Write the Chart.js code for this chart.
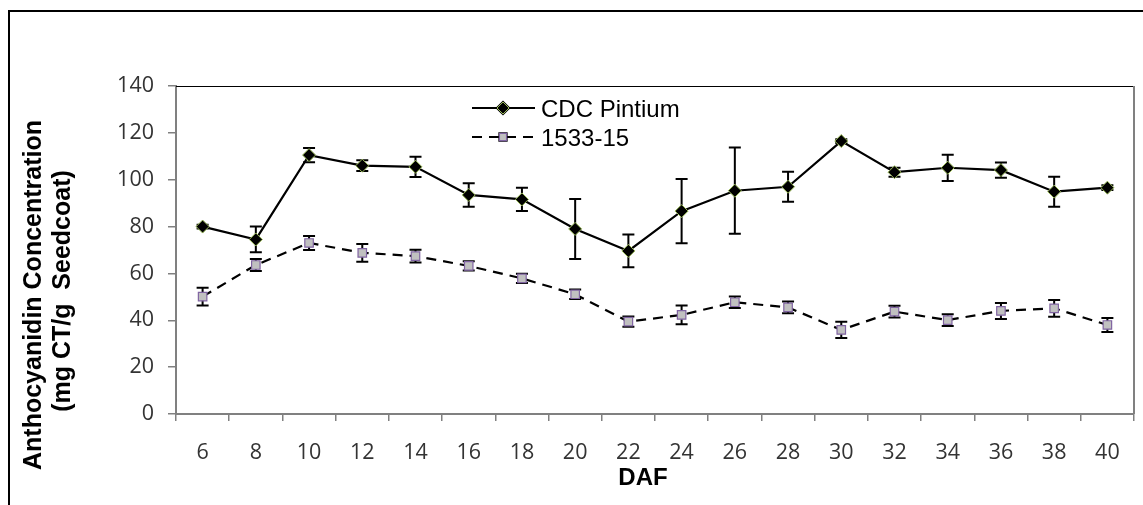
<!DOCTYPE html>
<html>
<head>
<meta charset="utf-8">
<script src="https://cdn.jsdelivr.net/npm/chart.js@4/dist/chart.umd.min.js"></script>
<style>
  html, body { margin: 0; padding: 0; background: #fff; }
  #wrap { position: relative; width: 1143px; height: 505px; overflow: hidden; }
  #c { position: absolute; left: 0; top: 0; }
  #frame { position: absolute; left: 8px; top: 10px; width: 1200px; height: 600px;
           border-top: 2px solid #000; border-left: 2px solid #000; pointer-events: none; }
</style>
</head>
<body>
<div id="wrap">
  <canvas id="c" width="1143" height="505"></canvas>
  <div id="frame"></div>
</div>
<script>
// ---- data ----
const days = ['6','8','10','12','14','16','18','20','22','24','26','28','30','32','34','36','38','40'];
const pintium    = [80, 74.5, 110.5, 106, 105.5, 93.5, 91.6, 79, 69.6, 86.6, 95.3, 97, 116.5, 103.2, 105.1, 104.1, 94.9, 96.6];
const pintiumErr = [0.8, 5.5, 3, 2.3, 4.3, 5, 5, 12.8, 7, 13.7, 18.4, 6.4, 0.8, 1.9, 5.6, 3.3, 6.4, 1];
const line1533    = [50.1, 63.6, 73, 68.8, 67.4, 63.2, 57.9, 51.1, 39.4, 42.3, 47.7, 45.5, 35.9, 43.7, 40.1, 44, 45.1, 38];
const line1533Err = [3.8, 2.6, 3, 3.8, 2.7, 2, 2, 2, 2.2, 4, 2.5, 2.5, 3.5, 2.5, 2.5, 3.4, 3.6, 3];
const seriesNames = ['CDC Pintium', '1533-15'];
const yTicks = [0, 20, 40, 60, 80, 100, 120, 140];
const yTitleLines = ['Anthocyanidin Concentration', '(mg CT/g  Seedcoat)'];
const xTitle = 'DAF';

// ---- plugins ----
const errorBars = {
  id: 'errorBars',
  beforeDatasetsDraw(chart) {
    const ctx = chart.ctx;
    const yScale = chart.scales.y;
    ctx.save();
    ctx.strokeStyle = '#000';
    ctx.lineWidth = 2;
    chart.data.datasets.forEach((ds, i) => {
      const meta = chart.getDatasetMeta(i);
      meta.data.forEach((pt, j) => {
        const e = ds.errors[j];
        const v = ds.data[j];
        const yTop = yScale.getPixelForValue(v + e);
        const yBot = yScale.getPixelForValue(v - e);
        const x = pt.x;
        ctx.beginPath();
        ctx.moveTo(x, yTop); ctx.lineTo(x, yBot);
        ctx.moveTo(x - 6, yTop); ctx.lineTo(x + 6, yTop);
        ctx.moveTo(x - 6, yBot); ctx.lineTo(x + 6, yBot);
        ctx.stroke();
      });
    });
    ctx.restore();
  }
};

const frameAndText = {
  id: 'frameAndText',
  beforeDatasetsDraw(chart) {
    const {ctx, chartArea: a} = chart;
    ctx.save();
    ctx.strokeStyle = '#000';
    ctx.lineWidth = 1;
    ctx.beginPath();
    ctx.moveTo(a.left, a.top + 0.5); ctx.lineTo(a.right, a.top + 0.5);
    ctx.stroke();
    ctx.strokeStyle = '#808080';
    ctx.lineWidth = 2;
    ctx.beginPath();
    ctx.moveTo(a.right, a.top); ctx.lineTo(a.right, a.bottom);
    ctx.stroke();
    ctx.restore();
  },
  afterDraw(chart) {
    const ctx = chart.ctx;
    ctx.save();
    // y title
    ctx.fillStyle = '#000';
    ctx.font = 'bold 25px "Liberation Sans", Arial, sans-serif';
    ctx.textAlign = 'center';
    ctx.textBaseline = 'middle';
    const pos = [[34, 295], [63, 291]];
    yTitleLines.forEach((t, i) => {
      ctx.save();
      ctx.translate(pos[i][0], pos[i][1]);
      ctx.rotate(-Math.PI / 2);
      ctx.fillText(t, 0, 0);
      ctx.restore();
    });
    // x title
    ctx.font = 'bold 24px "Liberation Sans", Arial, sans-serif';
    ctx.fillText(xTitle, 643, 478);

    // legend
    const lx0 = 472, lx1 = 535, mx = 503;
    const rows = [108, 137];
    chart.data.datasets.forEach((ds, i) => {
      const y = rows[i];
      ctx.strokeStyle = ds.borderColor;
      ctx.lineWidth = ds.borderWidth;
      ctx.setLineDash(ds.borderDash || []);
      ctx.beginPath();
      ctx.moveTo(lx0, y); ctx.lineTo(lx1, y);
      ctx.stroke();
      ctx.setLineDash([]);
      Chart.helpers.drawPoint(ctx, {
        pointStyle: ds.pointStyle,
        radius: i === 0 ? 6 : 5,
        borderWidth: ds.pointBorderWidth,
        rotation: 0
      }, mx, y);
      ctx.fillStyle = ds.pointBackgroundColor;
      ctx.strokeStyle = ds.pointBorderColor;
      ctx.lineWidth = ds.pointBorderWidth;
      ctx.fill();
      ctx.stroke();
      ctx.fillStyle = '#000';
      ctx.font = '24px "Liberation Sans", Arial, sans-serif';
      ctx.textAlign = 'left';
      ctx.textBaseline = 'alphabetic';
      ctx.fillText(ds.label, 541, y + 9);
    });
    ctx.restore();
  }
};

function render() {
  new Chart(document.getElementById('c'), {
    type: 'line',
    data: {
      labels: days,
      datasets: [
        {
          label: seriesNames[0],
          data: pintium,
          errors: pintiumErr,
          borderColor: '#000',
          borderWidth: 2.2,
          pointStyle: 'rectRot',
          pointRadius: 6.5,
          pointBackgroundColor: '#000',
          pointBorderColor: '#9bbb59',
          pointBorderWidth: 1,
          tension: 0
        },
        {
          label: seriesNames[1],
          data: line1533,
          errors: line1533Err,
          borderColor: '#000',
          borderWidth: 2.2,
          borderDash: [10, 7],
          pointStyle: 'rect',
          pointRadius: 6,
          pointBackgroundColor: '#c0c0c0',
          pointBorderColor: '#8064a2',
          pointBorderWidth: 1.2,
          tension: 0
        }
      ]
    },
    options: {
      responsive: false,
      animation: false,
      devicePixelRatio: 1,
      layout: { padding: { left: 0, top: 86, right: 9, bottom: 0 } },
      plugins: {
        legend: { display: false },
        tooltip: { enabled: false },
        title: { display: false }
      },
      scales: {
        x: {
          type: 'category',
          offset: true,
          grid: { display: true, drawOnChartArea: false, drawTicks: true, tickLength: 7, offset: true, color: '#808080', lineWidth: 1.5 },
          border: { display: true, color: '#808080', width: 2 },
          ticks: { color: '#333', font: { family: '"Open Sans"', size: 21.5 }, padding: 19, maxRotation: 0, autoSkip: false },
          afterFit(s) { s.height = 91; s.paddingLeft = 0; s.paddingRight = 0; }
        },
        y: {
          min: 0, max: 140,
          afterBuildTicks(s) { s.ticks = yTicks.map(v => ({ value: v })); },
          grid: { display: true, drawOnChartArea: false, drawTicks: true, tickLength: 8, color: '#808080', lineWidth: 1.5 },
          border: { display: true, color: '#808080', width: 2 },
          ticks: { color: '#333', font: { family: '"Open Sans"', size: 21.5 }, padding: 14 },
          afterFit(s) { s.width = 176; s.paddingTop = 0; s.paddingBottom = 0; }
        }
      }
    },
    plugins: [errorBars, frameAndText]
  });
}

Promise.all([
  document.fonts.load('20px "Open Sans"'),
  document.fonts.load('24px "Liberation Sans"'),
  document.fonts.load('bold 24px "Liberation Sans"')
]).then(render, render);
</script>
</body>
</html>
